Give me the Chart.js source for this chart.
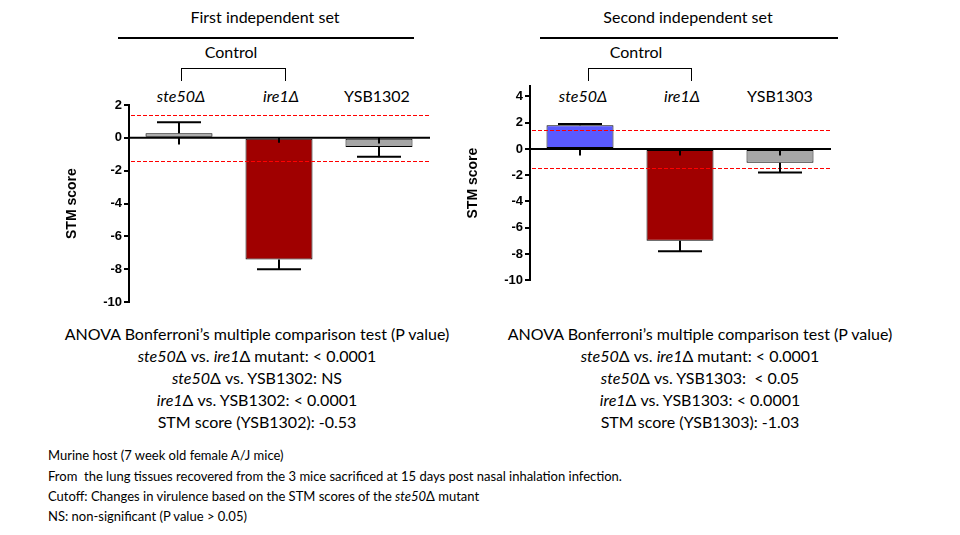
<!DOCTYPE html>
<html><head><meta charset="utf-8">
<script src="https://cdn.jsdelivr.net/npm/chart.js@4"></script>
<style>
body{margin:0;width:960px;height:535px;position:relative;background:#fff;font-family:Lato,"Open Sans",sans-serif;color:#000;overflow:hidden}
.t{position:absolute;white-space:nowrap}
.c{transform:translateX(-50%)}
.hl{position:absolute;height:2px;background:#000}
.br{position:absolute;border:1px solid #000;border-bottom:none;height:12px}
canvas{position:absolute}
.a{font-size:16px;line-height:22px;text-align:center}
.n{font-size:13px}
</style></head><body>
<div class="t c" style="left:265px;top:7px;font-size:16px">First independent set</div>
<div class="hl" style="left:118px;top:37px;width:296px"></div>
<div class="t c" style="left:231px;top:42px;font-size:16px">Control</div>
<div class="br" style="left:181px;top:68px;width:103px"></div>
<div class="t c" style="left:181px;top:86px;font-size:16px;font-style:italic">ste50Δ</div>
<div class="t c" style="left:281px;top:86px;font-size:16px;font-style:italic">ire1Δ</div>
<div class="t c" style="left:377px;top:86px;font-size:16px">YSB1302</div>

<div class="t c" style="left:688px;top:7px;font-size:16px">Second independent set</div>
<div class="hl" style="left:540px;top:37px;width:298px"></div>
<div class="t c" style="left:636px;top:42px;font-size:16px">Control</div>
<div class="br" style="left:588px;top:68px;width:102px"></div>
<div class="t c" style="left:583px;top:86px;font-size:16px;font-style:italic">ste50Δ</div>
<div class="t c" style="left:682px;top:86px;font-size:16px;font-style:italic">ire1Δ</div>
<div class="t c" style="left:780px;top:86px;font-size:16px">YSB1303</div>

<canvas id="c1" style="left:60px;top:90px"></canvas>
<canvas id="c2" style="left:461px;top:76px"></canvas>

<div class="t c a" style="left:257px;top:323px">ANOVA Bonferroni’s multiple comparison test (P value)<br><i>ste50</i>Δ vs. <i>ire1</i>Δ mutant: &lt; 0.0001<br><i>ste50</i>Δ vs. YSB1302: NS<br><i>ire1</i>Δ vs. YSB1302: &lt; 0.0001<br>STM score (YSB1302): -0.53</div>
<div class="t c a" style="left:700px;top:323px">ANOVA Bonferroni’s multiple comparison test (P value)<br><i>ste50</i>Δ vs. <i>ire1</i>Δ mutant: &lt; 0.0001<br><i>ste50</i>Δ vs. YSB1303: &nbsp;&lt; 0.05<br><i>ire1</i>Δ vs. YSB1303: &lt; 0.0001<br>STM score (YSB1303): -1.03</div>

<div class="t n" style="left:48px;top:447px">Murine host (7 week old female A/J mice)</div>
<div class="t n" style="left:48px;top:468px">From &nbsp;the lung tissues recovered from the 3 mice sacrificed at 15 days post nasal inhalation infection.</div>
<div class="t n" style="left:48px;top:488px">Cutoff: Changes in virulence based on the STM scores of the <i>ste50</i>Δ mutant</div>
<div class="t n" style="left:48px;top:508px">NS: non-significant (P value &gt; 0.05)</div>

<script>
const categories1 = ["ste50Δ","ire1Δ","YSB1302"];
const values1 = [0.28, -7.4, -0.55];
const errEnd1 = [0.95, -8.0, -1.15];
const stub1 = [-0.4, -0.3, -0.35];
const cutoff1 = [1.38, -1.4];
const colors1 = ["#a6a6a6","#a00000","#a6a6a6"];

const categories2 = ["ste50Δ","ire1Δ","YSB1303"];
const values2 = [1.8, -7.0, -1.05];
const errEnd2 = [1.9, -7.8, -1.8];
const stub2 = [-0.5, -0.5, -0.5];
const cutoff2 = [1.45, -1.45];
const colors2 = ["#5a5aff","#a00000","#a6a6a6"];

const yTicks = [2,0,-2,-4,-6,-8,-10];
const yTicks2 = [4,2,0,-2,-4,-6,-8,-10];

function mk(id, w, h, cats, vals, errs, stubs, cut, cols, max, ticks, pad){
  const extra = {
    id:'extra'+id,
    afterDatasetsDraw(ch){
      const ctx=ch.ctx, x=ch.scales.x, y=ch.scales.y, a=ch.chartArea;
      ctx.save();
      // cutoffs
      ctx.strokeStyle='#ff0000'; ctx.lineWidth=1; ctx.setLineDash([4,2]);
      cut.forEach(v=>{const py=Math.round(y.getPixelForValue(v))+0.5;ctx.beginPath();ctx.moveTo(a.left+2,py);ctx.lineTo(a.right,py);ctx.stroke();});
      ctx.setLineDash([]);
      // zero line
      ctx.strokeStyle='#000'; ctx.lineWidth=2;
      const z=y.getPixelForValue(0);
      ctx.beginPath();ctx.moveTo(a.left,z);ctx.lineTo(a.right+1,z);ctx.stroke();
      // error bars
      vals.forEach((v,i)=>{
        const px=x.getPixelForValue(i);
        const pv=y.getPixelForValue(v), pe=y.getPixelForValue(errs[i]);
        ctx.beginPath();ctx.moveTo(px,pv);ctx.lineTo(px,pe);ctx.stroke();
        ctx.beginPath();ctx.moveTo(px-22,pe);ctx.lineTo(px+22,pe);ctx.stroke();
        ctx.beginPath();ctx.moveTo(px,z);ctx.lineTo(px,y.getPixelForValue(stubs[i]));ctx.stroke();
      });
      ctx.restore();
    }
  };
  const cv=document.getElementById(id); cv.width=w; cv.height=h; cv.style.width=w+'px'; cv.style.height=h+'px';
  return new Chart(cv,{
    type:'bar',
    data:{labels:cats,datasets:[{data:vals,backgroundColor:cols,borderColor:'#000',borderWidth:1,barPercentage:0.67,categoryPercentage:1,borderSkipped:false}]},
    options:{
      responsive:false,animation:false,devicePixelRatio:1,
      layout:{padding:pad},
      plugins:{legend:{display:false},tooltip:{enabled:false}},
      scales:{
        x:{display:false},
        y:{min:-10,max:max,
          afterBuildTicks(s){s.ticks=ticks.map(v=>({value:v}));},
          afterFit(s){s.width=69;},
          grid:{drawOnChartArea:false,tickLength:5,color:'#000',lineWidth:2},
          border:{color:'#000',width:2},
          ticks:{color:'#000',padding:2,font:{family:'Liberation Sans',size:13,weight:'bold'}},
          title:{display:true,text:'STM score',color:'#000',padding:4,font:{family:'Liberation Sans',size:14,weight:'bold'}}
        }
      }
    },
    plugins:[extra]
  });
}
mk('c1',380,222,categories1,values1,errEnd1,stub1,cutoff1,colors1,2,yTicks,{top:15,bottom:4,right:11,left:0});
mk('c2',380,214,categories2,values2,errEnd2,stub2,cutoff2,colors2,4.8,yTicks2,{top:10,bottom:6,right:11,left:0});
</script>
</body></html>
